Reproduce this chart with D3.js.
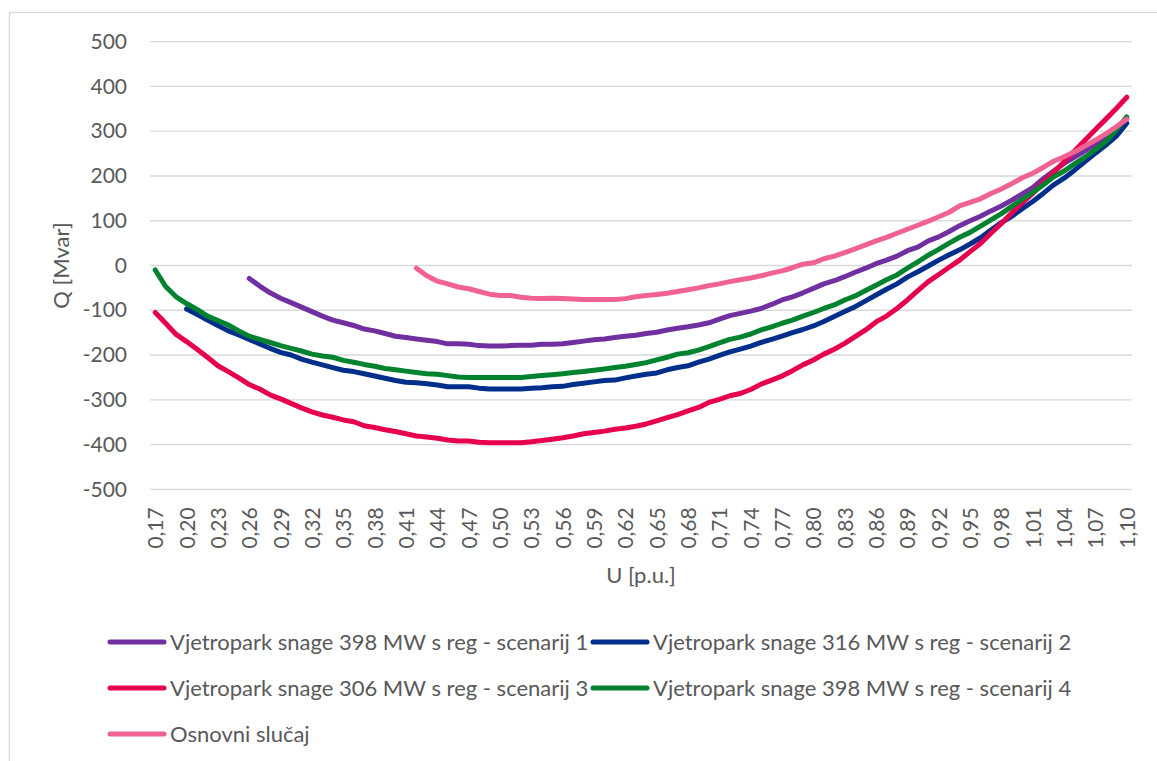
<!DOCTYPE html>
<meta charset="utf-8">
<style>
body { margin: 0; background: #fff; }
text { font-family: "Lato", "Liberation Sans", sans-serif; fill: #595959; }
.grid line { stroke: #d9d9d9; stroke-width: 1.3px; }
.axis path { display: none; }
.axis line { display: none; }
.axis text { font-size: 21px; fill: #595959; font-family: "Lato", sans-serif; }
.series { fill: none; stroke-width: 5px; stroke-linecap: round; stroke-linejoin: round; }
</style>
<svg width="1157" height="761"></svg>
<script src="https://d3js.org/d3.v7.min.js"></script>
<script>
// U [p.u.] categories, 0,17 .. 1,10
var categories = [
  "0,17","0,18","0,19","0,20","0,21","0,22","0,23","0,24","0,25","0,26",
  "0,27","0,28","0,29","0,30","0,31","0,32","0,33","0,34","0,35","0,36",
  "0,37","0,38","0,39","0,40","0,41","0,42","0,43","0,44","0,45","0,46",
  "0,47","0,48","0,49","0,50","0,51","0,52","0,53","0,54","0,55","0,56",
  "0,57","0,58","0,59","0,60","0,61","0,62","0,63","0,64","0,65","0,66",
  "0,67","0,68","0,69","0,70","0,71","0,72","0,73","0,74","0,75","0,76",
  "0,77","0,78","0,79","0,80","0,81","0,82","0,83","0,84","0,85","0,86",
  "0,87","0,88","0,89","0,90","0,91","0,92","0,93","0,94","0,95","0,96",
  "0,97","0,98","0,99","1,00","1,01","1,02","1,03","1,04","1,05","1,06",
  "1,07","1,08","1,09","1,10"
];

var xTickLabels = ["0,17","0,20","0,23","0,26","0,29","0,32","0,35","0,38","0,41","0,44",
  "0,47","0,50","0,53","0,56","0,59","0,62","0,65","0,68","0,71","0,74","0,77","0,80",
  "0,83","0,86","0,89","0,92","0,95","0,98","1,01","1,04","1,07","1,10"];

var yTicks = [-500, -400, -300, -200, -100, 0, 100, 200, 300, 400, 500];

// Q [Mvar] per scenario
var scenarij1 = [null,null,null,null,null,null,null,null,null,-29,
  -46,-61,-73,-83,-93,-103,-113,-122,-128,-134,
  -142,-146,-152,-158,-161,-164,-167,-170,-175,-175,
  -176,-179,-180,-180,-179,-178,-178,-176,-176,-175,
  -172,-169,-166,-164,-161,-158,-156,-152,-149,-144,
  -140,-137,-133,-128,-120,-112,-107,-102,-96,-87,
  -77,-70,-61,-51,-41,-34,-25,-15,-6,4,
  12,21,33,41,55,64,76,89,100,110,
  122,133,146,160,174,194,211,228,242,256,
  270,286,305,328];

var scenarij2 = [null,null,null,-97,-109,-122,-134,-146,-155,-165,
  -175,-185,-194,-200,-209,-216,-222,-228,-234,-237,
  -242,-247,-252,-257,-261,-262,-264,-267,-271,-271,
  -271,-274,-276,-276,-276,-276,-274,-273,-271,-270,
  -266,-263,-260,-257,-256,-251,-247,-243,-240,-233,
  -228,-224,-216,-209,-201,-193,-187,-180,-172,-165,
  -158,-150,-143,-135,-125,-114,-103,-92,-79,-66,
  -53,-41,-26,-14,-1,12,24,35,48,62,
  79,96,110,127,143,161,180,195,213,232,
  251,269,289,318];

var scenarij3 = [-105,-129,-154,-170,-187,-205,-224,-237,-251,-266,
  -276,-289,-298,-308,-318,-327,-334,-339,-345,-349,
  -358,-362,-367,-371,-376,-381,-383,-386,-390,-392,
  -392,-395,-396,-396,-396,-396,-394,-391,-388,-385,
  -381,-376,-373,-370,-366,-363,-359,-354,-347,-340,
  -333,-325,-317,-306,-299,-291,-286,-277,-265,-256,
  -247,-235,-222,-211,-198,-187,-174,-159,-144,-126,
  -113,-96,-77,-56,-36,-20,-4,12,31,49,
  72,94,118,140,161,186,208,232,256,280,
  304,327,351,376];

var scenarij4 = [-10,-47,-70,-85,-98,-113,-123,-133,-146,-158,
  -165,-172,-179,-185,-191,-198,-202,-205,-212,-216,
  -221,-225,-230,-233,-236,-239,-242,-243,-246,-249,
  -250,-250,-250,-250,-250,-250,-248,-246,-244,-242,
  -239,-237,-234,-231,-228,-225,-221,-217,-211,-205,
  -198,-195,-189,-181,-173,-165,-160,-153,-144,-137,
  -129,-122,-113,-105,-96,-88,-77,-68,-56,-44,
  -32,-21,-6,8,23,36,50,63,74,88,
  102,116,132,148,163,180,198,211,227,242,
  259,277,303,332];

var osnovni = [null,null,null,null,null,null,null,null,null,null,
  null,null,null,null,null,null,null,null,null,null,
  null,null,null,null,null,-6,-23,-35,-41,-48,
  -52,-58,-64,-67,-67,-71,-73,-74,-73,-74,
  -75,-76,-76,-76,-76,-74,-70,-67,-65,-62,
  -58,-54,-50,-45,-41,-36,-32,-28,-23,-17,
  -12,-5,3,6,15,21,29,37,46,55,
  63,72,81,90,99,109,119,133,141,149,
  161,171,183,196,206,219,233,243,254,267,
  280,294,310,327];

var series = [
  {name: "Vjetropark snage 398 MW s reg - scenarij 1", color: "#7030a0", values: scenarij1},
  {name: "Vjetropark snage 316 MW s reg - scenarij 2", color: "#002f8b", values: scenarij2},
  {name: "Vjetropark snage 306 MW s reg - scenarij 3", color: "#e6004e", values: scenarij3},
  {name: "Vjetropark snage 398 MW s reg - scenarij 4", color: "#00822f", values: scenarij4},
  {name: "Osnovni slučaj", color: "#f06292", values: osnovni}
];

var svg = d3.select("svg"),
    plot = {left: 150, right: 1132, top: 41.7, bottom: 489.3};

svg.append("rect")
    .attr("width", 1157).attr("height", 761)
    .attr("fill", "#fff");

// chart area border (runs off the right / bottom of the picture)
svg.append("rect")
    .attr("x", 9.5).attr("y", 12.5)
    .attr("width", 1200).attr("height", 800)
    .attr("fill", "none")
    .attr("stroke", "#d9d9d9")
    .attr("stroke-width", 1.3);

var x = d3.scalePoint().domain(categories).range([plot.left, plot.right]).padding(0.5),
    y = d3.scaleLinear().domain([-500, 500]).range([plot.bottom, plot.top]);

svg.append("g")
    .attr("class", "grid")
  .selectAll("line")
  .data(yTicks)
  .enter().append("line")
    .attr("x1", plot.left)
    .attr("x2", plot.right)
    .attr("y1", function(d) { return y(d); })
    .attr("y2", function(d) { return y(d); });

// plain hyphen for negatives, like the original
svg.append("g")
    .attr("class", "axis axis--y")
    .attr("transform", "translate(" + plot.left + ",0)")
    .call(d3.axisLeft(y).tickValues(yTicks).tickSize(0).tickPadding(23)
      .tickFormat(function(d) { return String(d); }));

var xAxis = svg.append("g")
    .attr("class", "axis axis--x")
    .attr("transform", "translate(0," + plot.bottom + ")")
    .call(d3.axisBottom(x).tickValues(xTickLabels).tickSize(0));

xAxis.selectAll("text")
    .attr("transform", "rotate(-90)")
    .attr("x", -18)
    .attr("y", 0)
    .attr("dy", "0.36em")
    .style("text-anchor", "end");

// axis titles
svg.append("text")
    .attr("x", (plot.left + plot.right) / 2)
    .attr("y", 583)
    .attr("text-anchor", "middle")
    .style("font-size", "22px")
    .text("U [p.u.]");

svg.append("text")
    .attr("transform", "translate(69," + (plot.top + plot.bottom) / 2 + ") rotate(-90)")
    .attr("text-anchor", "middle")
    .style("font-size", "22px")
    .text("Q [Mvar]");

var line = d3.line()
    .defined(function(d) { return d != null; })
    .x(function(d, i) { return x(categories[i]); })
    .y(function(d) { return y(d); });

svg.selectAll(".series")
    .data(series)
  .enter().append("path")
    .attr("class", "series")
    .attr("stroke", function(d) { return d.color; })
    .attr("d", function(d) { return line(d.values); });

// legend, two columns
var legendCols = [110, 593],
    legendRows = [642, 688, 734];

var legend = svg.selectAll(".legend")
    .data(series)
  .enter().append("g")
    .attr("class", "legend")
    .attr("transform", function(d, i) {
      return "translate(" + legendCols[i % 2] + "," + legendRows[Math.floor(i / 2)] + ")";
    });

legend.append("line")
    .attr("x1", 0).attr("x2", 54)
    .attr("stroke", function(d) { return d.color; })
    .attr("stroke-width", 5)
    .attr("stroke-linecap", "round");

legend.append("text")
    .attr("x", 60)
    .attr("dy", "0.35em")
    .style("font-size", "22px")
    .text(function(d) { return d.name; });
</script>
